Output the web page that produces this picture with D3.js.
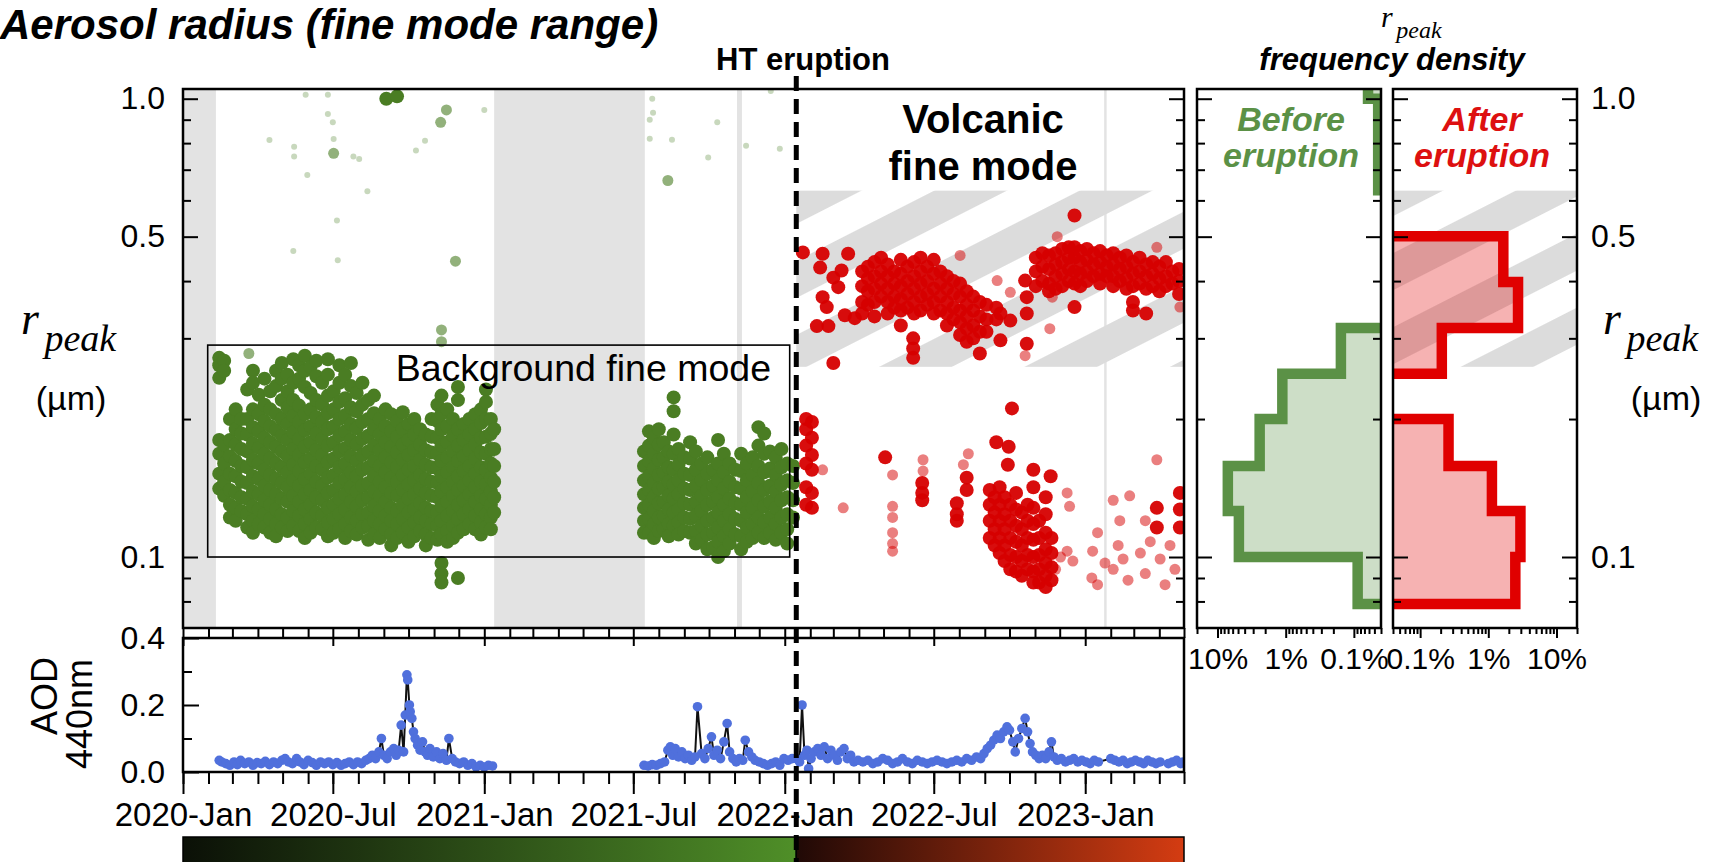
<!DOCTYPE html>
<html>
<head>
<meta charset="utf-8">
<script src="https://cdn.jsdelivr.net/npm/d3@7"></script>
<style>
  body { margin: 0; background: #fff; }
  svg { display: block; }
  text { font-family: "Liberation Sans", Arial, sans-serif; }
  .serif { font-family: "Liberation Serif", "Times New Roman", serif; font-style: italic; }
</style>
</head>
<body>
<svg id="chart"></svg>
<script>
// ---- data (day = days since 2020-01-01) ----
const startDate = "2020-01-01", endDate = "2023-05-01", eruptionDate = "2022-01-15";

// periods without retrievals (grey bands)
const noDataPeriods = [["2020-01-01", "2020-02-10"], ["2021-01-13", "2021-07-15"],
                       ["2021-11-04", "2021-11-10"], ["2023-01-24", "2023-01-27"]];

// volcanic fine mode range (hatched)
const volcanicRange = [0.26, 0.63];
// background fine mode box
const backgroundBox = { from: "2020-01-31", to: "2022-01-07", r: [0.1, 0.29] };

// r_peak, before eruption: [day, [r values]]
const beforeStrong = [
 [44,[0.272,0.262,0.246,0.18,0.168,0.152,0.141]],
 [50,[0.268,0.255,0.176,0.16,0.146,0.136]],
 [57,[0.2,0.18,0.166,0.152,0.14,0.13,0.122]],
 [64,[0.21,0.19,0.176,0.162,0.15,0.138,0.128,0.12]],
 [71,[0.2,0.186,0.172,0.158,0.146,0.135,0.126]],
 [78,[0.232,0.2,0.185,0.17,0.157,0.145,0.134,0.124,0.116]],
 [85,[0.255,0.24,0.21,0.192,0.177,0.163,0.15,0.139,0.129,0.12,0.113]],
 [92,[0.226,0.205,0.188,0.173,0.16,0.148,0.137,0.127,0.118]],
 [99,[0.245,0.215,0.198,0.182,0.168,0.155,0.143,0.133,0.124,0.116]],
 [106,[0.23,0.21,0.193,0.178,0.164,0.151,0.14,0.13,0.121,0.113]],
 [113,[0.255,0.236,0.205,0.189,0.174,0.16,0.148,0.137,0.127,0.118,0.111]],
 [120,[0.265,0.245,0.22,0.2,0.184,0.17,0.157,0.145,0.134,0.124,0.116]],
 [127,[0.25,0.23,0.212,0.195,0.18,0.166,0.153,0.142,0.132,0.122,0.114]],
 [134,[0.27,0.24,0.22,0.203,0.187,0.172,0.159,0.147,0.136,0.126,0.117]],
 [141,[0.262,0.245,0.214,0.197,0.181,0.167,0.154,0.143,0.132,0.123,0.114]],
 [148,[0.275,0.255,0.235,0.205,0.189,0.174,0.161,0.148,0.137,0.127,0.118,0.11]],
 [155,[0.26,0.228,0.21,0.193,0.178,0.164,0.152,0.14,0.13,0.121,0.113]],
 [162,[0.268,0.248,0.22,0.202,0.186,0.171,0.158,0.146,0.135,0.125,0.116]],
 [169,[0.24,0.215,0.197,0.181,0.167,0.155,0.143,0.133,0.123,0.115]],
 [176,[0.27,0.25,0.225,0.206,0.19,0.175,0.161,0.149,0.138,0.128,0.119,0.111]],
 [183,[0.23,0.21,0.193,0.178,0.164,0.151,0.14,0.13,0.121,0.113]],
 [190,[0.262,0.24,0.218,0.2,0.184,0.17,0.157,0.145,0.134,0.124,0.115]],
 [197,[0.25,0.222,0.204,0.188,0.173,0.16,0.148,0.137,0.127,0.118,0.11]],
 [204,[0.265,0.236,0.212,0.195,0.18,0.166,0.153,0.142,0.132,0.122,0.114]],
 [211,[0.228,0.208,0.191,0.176,0.162,0.15,0.139,0.129,0.12,0.112]],
 [218,[0.24,0.215,0.197,0.181,0.167,0.155,0.143,0.133,0.124,0.116]],
 [225,[0.22,0.2,0.184,0.17,0.157,0.145,0.135,0.125,0.117,0.109]],
 [232,[0.225,0.206,0.19,0.175,0.162,0.15,0.139,0.129,0.12,0.112]],
 [239,[0.2,0.185,0.171,0.158,0.146,0.136,0.126,0.118,0.11]],
 [246,[0.21,0.193,0.178,0.165,0.153,0.142,0.132,0.123,0.115]],
 [253,[0.205,0.188,0.174,0.161,0.149,0.138,0.128,0.12,0.112,0.106]],
 [260,[0.198,0.183,0.169,0.157,0.146,0.136,0.126,0.118,0.11]],
 [267,[0.207,0.19,0.176,0.163,0.151,0.14,0.13,0.121,0.113]],
 [274,[0.195,0.18,0.167,0.155,0.144,0.134,0.125,0.116,0.108]],
 [281,[0.2,0.185,0.171,0.158,0.147,0.137,0.127,0.119,0.111]],
 [288,[0.19,0.176,0.163,0.151,0.141,0.131,0.122,0.114]],
 [295,[0.185,0.171,0.159,0.148,0.138,0.128,0.12,0.112,0.106]],
 [302,[0.2,0.183,0.169,0.157,0.146,0.136,0.126,0.118,0.11]],
 [309,[0.215,0.198,0.182,0.168,0.156,0.145,0.135,0.125,0.117,0.109]],
 [314,[0.225,0.205,0.19,0.175,0.162,0.15,0.139,0.129,0.12,0.112,0.097,0.092,0.088]],
 [321,[0.21,0.193,0.178,0.165,0.153,0.142,0.132,0.123,0.114,0.108]],
 [328,[0.2,0.184,0.17,0.157,0.146,0.136,0.126,0.117,0.11]],
 [334,[0.235,0.22,0.19,0.175,0.162,0.15,0.14,0.13,0.121,0.113,0.09]],
 [341,[0.195,0.18,0.166,0.154,0.143,0.133,0.124,0.115]],
 [348,[0.2,0.185,0.171,0.158,0.147,0.137,0.127,0.118]],
 [355,[0.205,0.19,0.176,0.164,0.152,0.142,0.132,0.123,0.115]],
 [362,[0.21,0.196,0.182,0.169,0.157,0.146,0.136,0.127,0.119,0.112]],
 [368,[0.232,0.218,0.2,0.183,0.168,0.155,0.144,0.134,0.124,0.116]],
 [374,[0.2,0.186,0.172,0.16,0.149,0.139,0.13,0.122,0.115]],
 [378,[0.19,0.172,0.158,0.146,0.135,0.125]],
 [247,[1.0]], [260,[1.012]],
 [560,[0.17,0.158,0.147,0.137,0.128,0.12,0.113]],
 [566,[0.188,0.175,0.162,0.15,0.14,0.13,0.121,0.113]],
 [572,[0.182,0.168,0.156,0.145,0.135,0.126,0.118,0.11]],
 [578,[0.19,0.176,0.163,0.151,0.141,0.131,0.122,0.114]],
 [584,[0.178,0.165,0.153,0.142,0.132,0.123,0.115]],
 [590,[0.17,0.157,0.146,0.136,0.127,0.118,0.111]],
 [596,[0.223,0.208,0.185,0.168,0.155,0.144,0.134,0.125,0.117]],
 [602,[0.172,0.159,0.147,0.137,0.127,0.119,0.112]],
 [609,[0.165,0.152,0.141,0.131,0.122,0.114]],
 [616,[0.178,0.164,0.151,0.14,0.13,0.121,0.113]],
 [623,[0.17,0.155,0.143,0.132,0.123,0.114,0.107]],
 [630,[0.16,0.147,0.136,0.126,0.117,0.109]],
 [637,[0.165,0.152,0.14,0.13,0.12,0.112,0.104]],
 [644,[0.155,0.143,0.132,0.122,0.113,0.105]],
 [650,[0.18,0.16,0.147,0.135,0.125,0.116,0.108,0.1]],
 [657,[0.168,0.153,0.141,0.13,0.12,0.111,0.103]],
 [664,[0.16,0.146,0.134,0.124,0.115,0.107]],
 [671,[0.155,0.142,0.131,0.121,0.112]],
 [678,[0.168,0.154,0.141,0.13,0.12,0.111,0.104]],
 [685,[0.16,0.147,0.135,0.125,0.116,0.108]],
 [692,[0.165,0.151,0.139,0.128,0.118,0.11]],
 [699,[0.192,0.175,0.158,0.145,0.133,0.122,0.113]],
 [706,[0.186,0.168,0.153,0.14,0.129,0.119,0.11]],
 [713,[0.17,0.156,0.143,0.132,0.122,0.113]],
 [720,[0.165,0.151,0.139,0.128,0.118,0.109]],
 [727,[0.172,0.157,0.144,0.133,0.122,0.113]],
 [734,[0.16,0.147,0.135,0.124,0.115,0.107]],
 [741,[0.158,0.145,0.133,0.122]]
];
const beforeMid = [[320,0.945],[313,0.888],[183,0.76],[331,0.442],[314,0.313],[314,0.295],
  [80,0.278],[589,0.663],[373,0.183],[373,0.168]];
const beforeFaint = [[149,1.02],[176,1.02],[366,0.945],[176,0.926],[182,0.888],[105,0.813],
  [135,0.786],[135,0.748],[183,0.817],[207,0.748],[214,0.739],[283,0.771],[294,0.81],
  [151,0.682],[224,0.628],[187,0.542],[134,0.465],[188,0.444],[570,1.0],[571,0.932],
  [567,0.9],[567,0.818],[594,0.814],[638,0.744],[649,0.888],[684,0.79],[725,0.778],
  [714,1.04],[187,0.112]];

// r_peak, after eruption
const afterStrong = [
 [753,[0.462]],[757,[0.2,0.19,0.175,0.16,0.142,0.13]],[764,[0.197,0.182,0.167,0.155,0.138,0.128]],
 [770,[0.319]],[774,[0.428]],[777,[0.459,0.369]],[782,[0.351]],[784,[0.319]],
 [790,[0.407,0.265]],[796,[0.388]],[800,[0.422]],[804,[0.337]],[808,[0.459]],[816,[0.332]],
 [825,[0.42,0.39,0.36,0.34]],[832,[0.43,0.405,0.38,0.355]],[840,[0.44,0.41,0.385,0.36,0.335]],
 [848,[0.45,0.42,0.395,0.37]],[853,[0.165]],[856,[0.435,0.41,0.385,0.36,0.34]],
 [864,[0.42,0.395,0.37,0.35]],[872,[0.445,0.415,0.39,0.365,0.345,0.32]],
 [880,[0.43,0.4,0.375,0.35]],[887,[0.3,0.285,0.272]],[888,[0.44,0.41,0.385,0.36,0.34]],
 [896,[0.45,0.42,0.395,0.37,0.345]],[898,[0.145,0.138,0.133]],[904,[0.43,0.4,0.375,0.355]],
 [912,[0.445,0.415,0.385,0.36,0.34]],[920,[0.42,0.395,0.37,0.345]],
 [928,[0.41,0.385,0.36,0.34,0.32]],[936,[0.4,0.375,0.35,0.33]],[940,[0.131,0.124,0.12]],
 [944,[0.395,0.37,0.345,0.325,0.305]],[952,[0.38,0.355,0.335,0.315,0.295,0.149,0.14]],
 [960,[0.37,0.345,0.32,0.3]],[968,[0.36,0.335,0.31,0.278]],[976,[0.355,0.33,0.31]],
 [980,[0.14,0.13,0.12,0.11]],[986,[0.135,0.125,0.115,0.106]],[988,[0.178,0.35,0.33]],
 [992,[0.142,0.13,0.12,0.11,0.102]],[993,[0.297,0.34]],[998,[0.135,0.124,0.115,0.106,0.098]],
 [1002,[0.159]],[1003,[0.174]],[1005,[0.13,0.12,0.11,0.101,0.094,0.328]],
 [1007,[0.211]],[1012,[0.138,0.127,0.117,0.108,0.1,0.093]],[1019,[0.125,0.115,0.106,0.098,0.091]],
 [1023,[0.401]],[1025,[0.292,0.369,0.34]],[1026,[0.13,0.12,0.11,0.101,0.094]],
 [1033,[0.155,0.142,0.128,0.118,0.109,0.1,0.093,0.088]],[1036,[0.45,0.42,0.39]],
 [1040,[0.12,0.11,0.101,0.094,0.088]],[1044,[0.46,0.43,0.4]],
 [1048,[0.135,0.124,0.113,0.104,0.097,0.091,0.086]],[1052,[0.455,0.425,0.395,0.38]],
 [1054,[0.15]],[1055,[0.11,0.102,0.095,0.089]],[1060,[0.46,0.435,0.41,0.385]],
 [1068,[0.47,0.44,0.415,0.39]],[1076,[0.474,0.45,0.425,0.4]],
 [1083,[0.556,0.474,0.45,0.42,0.395,0.351]],[1090,[0.465,0.44,0.415,0.39]],
 [1098,[0.47,0.445,0.42,0.4]],[1106,[0.46,0.435,0.41]],[1114,[0.465,0.44,0.415,0.395]],
 [1122,[0.455,0.43,0.41]],[1130,[0.46,0.435,0.41,0.39]],[1138,[0.45,0.425,0.4]],
 [1146,[0.455,0.43,0.405,0.385]],[1154,[0.44,0.415,0.39,0.36,0.345]],[1162,[0.45,0.42,0.395]],
 [1170,[0.435,0.41,0.385,0.34]],[1178,[0.44,0.415,0.39]],[1183,[0.128,0.116]],
 [1186,[0.43,0.405,0.38]],[1194,[0.44,0.41,0.39]],[1202,[0.42,0.395]],
 [1210,[0.425,0.4,0.375]],[1211,[0.138,0.127,0.116]]
];
const afterMid = [[777,0.155],[802,0.128],[862,0.151],[862,0.129],[862,0.122],[862,0.113],
  [862,0.107],[862,0.103],[899,0.163],[899,0.154],[954,0.168],[948,0.159],[1074,0.138],
  [1077,0.129],[1074,0.103],[1081,0.098],[1105,0.103],[1111,0.113],[1111,0.087],[1104,0.09],
  [1130,0.133],[1138,0.12],[1136,0.106],[1142,0.099],[1130,0.094],[1148,0.089],[1163,0.102],
  [1169,0.092],[1175,0.108],[1187,0.099],[1193,0.087],[1199,0.106],[1205,0.094],[1169,0.12],
  [1183,0.163],[1150,0.136],[944,0.455],[989,0.401],[1005,0.378],[1023,0.275],[1053,0.315],
  [1056,0.369],[1062,0.5],[1183,0.474],[1211,0.351],[1060,0.094],[1066,0.1],[1120,0.097]];

// histogram bins (log10 step 0.1) and frequency density
const binEdges = [0.063, 0.079, 0.1, 0.126, 0.158, 0.2, 0.251, 0.316, 0.398, 0.501, 0.631, 0.794, 1.0, 1.259];
const histBefore = [0, 0.00088, 0.0486, 0.0706, 0.0241, 0.0112, 0.00155, 0, 0, 0, 0.00044, 0.00044, 0.00062];
const histAfter  = [0, 0.0249, 0.0296, 0.0113, 0.00261, 0, 0.00208, 0.0273, 0.0166, 0, 0, 0, 0];

// AOD 440 nm: [day, aod]
const aodP1 = [[44,0.035],[47,0.03],[52,0.025],[57,0.02],[62,0.03],[66,0.022],[70,0.035],[75,0.025],
 [80,0.03],[85,0.02],[90,0.028],[95,0.025],[100,0.032],[105,0.022],[110,0.03],[115,0.025],[120,0.035],
 [124,0.04],[128,0.03],[133,0.025],[138,0.04],[142,0.03],[147,0.022],[152,0.035],[157,0.028],[162,0.02],
 [167,0.03],[172,0.025],[177,0.03],[182,0.022],[187,0.028],[192,0.02],[197,0.025],[202,0.03],[207,0.022],
 [212,0.03],[217,0.025],[222,0.035],[226,0.04],[230,0.05],[234,0.04],[238,0.06],[241,0.1],[244,0.05],
 [248,0.04],[252,0.06],[256,0.07],[259,0.05],[262,0.065],[265,0.14],[268,0.06],[270,0.17],[272,0.29],
 [273,0.275],[275,0.2],[276,0.18],[278,0.16],[280,0.12],[282,0.1],[285,0.08],[288,0.065],[291,0.09],
 [294,0.06],[297,0.05],[300,0.07],[304,0.045],[308,0.06],[312,0.04],[316,0.055],[320,0.035],[323,0.1],
 [327,0.04],[331,0.03],[336,0.025],[341,0.03],[346,0.02],[351,0.025],[356,0.015],[361,0.02],[366,0.015],
 [371,0.02],[376,0.018]];
const aodP2 = [[560,0.02],[565,0.018],[570,0.022],[575,0.02],[580,0.025],[585,0.03],[589,0.065],
 [592,0.075],[595,0.05],[598,0.07],[602,0.045],[606,0.06],[610,0.04],[614,0.05],[618,0.035],[622,0.045],
 [625,0.195],[630,0.055],[634,0.04],[638,0.07],[642,0.105],[645,0.05],[649,0.065],[653,0.04],[657,0.09],
 [661,0.145],[664,0.06],[668,0.04],[672,0.03],[676,0.04],[680,0.035],[683,0.095],[687,0.06],[691,0.045],
 [695,0.035],[700,0.03],[705,0.025],[710,0.02],[715,0.025],[720,0.03],[725,0.02],[730,0.04],[735,0.035],
 [740,0.04]];
const aodP3 = [[745,0.04],[749,0.03],[752,0.2],[755,0.05],[758,0.065],[760,0.01],[763,0.04],[767,0.06],
 [771,0.07],[775,0.05],[779,0.075],[783,0.04],[787,0.065],[791,0.05],[795,0.035],[799,0.06],[803,0.07],
 [807,0.04],[811,0.05],[815,0.03],[820,0.035],[826,0.03],[832,0.035],[838,0.025],[844,0.03],[850,0.04],
 [856,0.035],[862,0.025],[868,0.03],[874,0.04],[880,0.03],[886,0.025],[892,0.035],[898,0.03],[904,0.025],
 [910,0.03],[916,0.035],[922,0.03],[928,0.025],[934,0.03],[940,0.035],[946,0.03],[952,0.04],[958,0.035],
 [964,0.045],[969,0.04],[973,0.055],[977,0.07],[981,0.08],[985,0.095],[989,0.11],[993,0.1],[997,0.12],
 [1001,0.135],[1004,0.125],[1008,0.09],[1011,0.06],[1015,0.1],[1019,0.13],[1023,0.16],[1026,0.12],
 [1029,0.085],[1032,0.06],[1036,0.05],[1040,0.04],[1044,0.05],[1048,0.04],[1052,0.06],[1055,0.09],
 [1058,0.045],[1062,0.035],[1067,0.04],[1072,0.03],[1077,0.035],[1082,0.04],[1087,0.03],[1092,0.035],
 [1097,0.03],[1102,0.025],[1107,0.035],[1112,0.03],[1127,0.04],[1132,0.035],[1137,0.03],[1142,0.035],
 [1147,0.025],[1152,0.03],[1157,0.035],[1162,0.03],[1167,0.025],[1172,0.035],[1177,0.03],[1182,0.025],
 [1187,0.03],[1197,0.025],[1202,0.03],[1207,0.035],[1212,0.025],[1215,0.03]];

// ticks
const rMajor = [0.1, 0.5, 1.0];
const rMinor = [0.08, 0.09, 0.2, 0.3, 0.4, 0.6, 0.7, 0.8, 0.9];
const aodMajor = [0, 0.2, 0.4], aodMinor = [0.1, 0.3];
const freqMajor = [0.001, 0.01, 0.1];
const freqMinor = [0.0004,0.0005,0.0006,0.0007,0.0008,0.0009,0.002,0.003,0.004,0.005,0.006,0.007,
  0.008,0.009,0.02,0.03,0.04,0.05,0.06,0.07,0.08,0.09,0.2];

// ---- layout ----
const W = 1716, H = 862;
const M = { x0: 183, x1: 1184, y0: 89, y1: 628 };   // main scatter panel
const A = { y0: 638, y1: 772 };                     // AOD panel
const H1 = { x0: 1197, x1: 1381 }, H2 = { x0: 1393, x1: 1577 };
const green = "#4a7d23", red = "#d60000", blue = "#5070dc";
const histGreen = "#5b9146", histRed = "#e00000";

const parse = d3.timeParse("%Y-%m-%d");
const t0 = parse(startDate);
const dayDate = d => d3.timeDay.offset(t0, d);

const x = d3.scaleTime().domain([t0, parse(endDate)]).range([M.x0, M.x1]);
const y = d3.scaleLog().domain([0.07, 1.05]).range([M.y1, M.y0]);
const yA = d3.scaleLinear().domain([0, 0.4]).range([A.y1, A.y0]);
const hx1 = d3.scaleLog().domain([0.2, 0.0004]).range([H1.x0, H1.x1]);
const hx2 = d3.scaleLog().domain([0.0004, 0.2]).range([H2.x0, H2.x1]);

const svg = d3.select("#chart").attr("width", W).attr("height", H);
svg.append("rect").attr("width", W).attr("height", H).attr("fill", "#fff");
const defs = svg.append("defs");

function clip(id, x0, y0, x1, y1) {
  defs.append("clipPath").attr("id", id).append("rect")
    .attr("x", x0).attr("y", y0).attr("width", x1 - x0).attr("height", y1 - y0);
}
clip("cMain", M.x0, M.y0, M.x1, M.y1);
clip("cAod", M.x0, A.y0, M.x1, A.y1);
clip("cH1", H1.x0, M.y0, H1.x1, M.y1);
clip("cH2", H2.x0, M.y0, H2.x1, M.y1);

// diagonal hatch
const pat = defs.append("pattern").attr("id", "hatch").attr("patternUnits", "userSpaceOnUse")
  .attr("width", 66).attr("height", 66).attr("patternTransform", "rotate(-27)");
pat.append("rect").attr("width", 66).attr("height", 33).attr("fill", "#dcdcdc");

// colorbar gradients
function grad(id, c0, c1) {
  const g = defs.append("linearGradient").attr("id", id);
  g.append("stop").attr("offset", "0%").attr("stop-color", c0);
  g.append("stop").attr("offset", "100%").attr("stop-color", c1);
}
grad("gBefore", "#0b1007", "#4f8f28");
grad("gAfter", "#200906", "#d43c12");

const eruptX = x(parse(eruptionDate));

// ---- main panel ----
const gm = svg.append("g").attr("clip-path", "url(#cMain)");
gm.selectAll("rect.gap").data(noDataPeriods).join("rect")
  .attr("x", d => x(parse(d[0]))).attr("width", d => x(parse(d[1])) - x(parse(d[0])))
  .attr("y", M.y0).attr("height", M.y1 - M.y0).attr("fill", "#e3e3e3");
gm.append("rect").attr("x", eruptX).attr("width", M.x1 - eruptX)
  .attr("y", y(volcanicRange[1])).attr("height", y(volcanicRange[0]) - y(volcanicRange[1]))
  .attr("fill", "url(#hatch)");

const cols = c => c.flatMap(([d, rs]) => rs.map(r => [d, r]));
function dots(g, data, color, rad, op) {
  g.append("g").selectAll("circle").data(data).join("circle")
    .attr("cx", d => x(dayDate(d[0]))).attr("cy", d => y(d[1]))
    .attr("r", rad).attr("fill", color).attr("fill-opacity", op);
}
dots(gm, beforeFaint, green, 3, 0.3);
dots(gm, beforeMid, green, 5.5, 0.6);
dots(gm, cols(beforeStrong), green, 7, 1);
dots(gm, afterMid, red, 5.5, 0.5);
dots(gm, cols(afterStrong), red, 7, 0.95);

svg.append("rect")
  .attr("x", x(parse(backgroundBox.from))).attr("width", x(parse(backgroundBox.to)) - x(parse(backgroundBox.from)))
  .attr("y", y(backgroundBox.r[1])).attr("height", y(backgroundBox.r[0]) - y(backgroundBox.r[1]))
  .attr("fill", "none").attr("stroke", "#000").attr("stroke-width", 1.6);
svg.append("text").attr("x", 771).attr("y", 381).attr("text-anchor", "end")
  .attr("font-size", 37.5).text("Background fine mode");
svg.append("text").attr("x", 983).attr("y", 133).attr("text-anchor", "middle")
  .attr("font-size", 40).attr("font-weight", "bold").text("Volcanic");
svg.append("text").attr("x", 983).attr("y", 180).attr("text-anchor", "middle")
  .attr("font-size", 40).attr("font-weight", "bold").text("fine mode");

// ---- AOD panel ----
const ga = svg.append("g").attr("clip-path", "url(#cAod)");
const aodLine = d3.line().x(d => x(dayDate(d[0]))).y(d => yA(d[1]));
[aodP1, aodP2, aodP3].forEach(p => {
  ga.append("path").attr("d", aodLine(p)).attr("fill", "none").attr("stroke", "#111").attr("stroke-width", 2);
});
ga.selectAll("circle").data(aodP1.concat(aodP2, aodP3)).join("circle")
  .attr("cx", d => x(dayDate(d[0]))).attr("cy", d => yA(d[1])).attr("r", 4.8).attr("fill", blue);

// ---- histograms ----
function hist(vals, xs, zeroX, clipId, stroke, fill) {
  const pts = [[zeroX, y(binEdges[0])]];
  vals.forEach((v, i) => {
    const xv = v > 0 ? xs(v) : zeroX;
    pts.push([xv, y(binEdges[i])], [xv, y(binEdges[i + 1])]);
  });
  pts.push([zeroX, y(binEdges[binEdges.length - 1])]);
  const g = svg.append("g").attr("clip-path", `url(#${clipId})`);
  g.append("path").attr("d", d3.line()(pts) + "Z").attr("fill", fill);
  g.append("path").attr("d", d3.line()(pts)).attr("fill", "none").attr("stroke", stroke)
    .attr("stroke-width", 10.5).attr("stroke-linejoin", "miter");
  return g;
}
hist(histBefore, hx1, H1.x1 + 40, "cH1", histGreen, "rgba(91,145,70,0.3)");
const g2 = svg.append("g").attr("clip-path", "url(#cH2)");
g2.append("rect").attr("x", H2.x0).attr("width", H2.x1 - H2.x0)
  .attr("y", y(volcanicRange[1])).attr("height", y(volcanicRange[0]) - y(volcanicRange[1]))
  .attr("fill", "url(#hatch)");
hist(histAfter, hx2, H2.x0 - 40, "cH2", histRed, "rgba(224,0,0,0.3)");

function label2(cx, lines, color) {
  lines.forEach((s, i) => svg.append("text").attr("x", cx).attr("y", 131 + i * 36)
    .attr("text-anchor", "middle").attr("font-size", 34).attr("font-weight", "bold")
    .attr("font-style", "italic").attr("fill", color).text(s));
}
label2(1291, ["Before", "eruption"], histGreen);
label2(1482, ["After", "eruption"], "#dd1010");

// ---- frames ----
[[M.x0, M.y0, M.x1, M.y1], [M.x0, A.y0, M.x1, A.y1], [H1.x0, M.y0, H1.x1, M.y1], [H2.x0, M.y0, H2.x1, M.y1]]
  .forEach(([a, b, c, d]) => svg.append("rect").attr("x", a).attr("y", b).attr("width", c - a)
    .attr("height", d - b).attr("fill", "none").attr("stroke", "#000").attr("stroke-width", 2.5));

// ---- axes ----
function styled(g, fs) {
  g.select(".domain").remove();
  g.attr("font-family", null).attr("font-size", null);
  g.selectAll(".tick line").attr("stroke", "#000").attr("stroke-width", 2);
  g.selectAll(".tick text").attr("fill", "#000").attr("font-size", fs);
  return g;
}
function add(tx, ty, axis, fs = 32) {
  return styled(svg.append("g").attr("transform", `translate(${tx},${ty})`).call(axis), fs);
}
const f1 = d3.format(".1f");
// r_peak axes on every panel
[[M.x0, "L"], [M.x1, "R"], [H1.x0, "L"], [H1.x1, "R"], [H2.x0, "L"]].forEach(([px, side]) => {
  const mk = side === "L" ? d3.axisLeft : d3.axisRight;
  const lab = px === M.x0;
  add(px, 0, mk(y).tickValues(rMajor).tickSize(-15).tickPadding(18).tickFormat(lab ? f1 : ""));
  add(px, 0, mk(y).tickValues(rMinor).tickSize(-8).tickFormat(""));
});
add(H2.x1, 0, d3.axisRight(y).tickValues(rMajor).tickSize(-15).tickPadding(14).tickFormat(f1));
add(H2.x1, 0, d3.axisRight(y).tickValues(rMinor).tickSize(-8).tickFormat(""));

// monthly "ladder" between panels
add(0, M.y1, d3.axisBottom(x).ticks(d3.timeMonth.every(1)).tickSize(10).tickFormat(""));
// AOD axes
add(M.x0, 0, d3.axisLeft(yA).tickValues(aodMajor).tickSize(-16).tickPadding(18).tickFormat(f1));
add(M.x0, 0, d3.axisLeft(yA).tickValues(aodMinor).tickSize(-9).tickFormat(""));
add(0, A.y1, d3.axisBottom(x).ticks(d3.timeMonth.every(1)).tickSize(12).tickFormat(""));
add(0, A.y1, d3.axisBottom(x).ticks(d3.timeMonth.every(6)).tickSize(22).tickPadding(9)
  .tickFormat(d3.timeFormat("%Y-%b")), 33);
add(0, A.y0, d3.axisBottom(x).ticks(d3.timeMonth.every(6)).tickSize(8).tickFormat(""));

// frequency axes
const pct = d3.format("~%");
add(0, M.y1, d3.axisBottom(hx1).tickValues(freqMajor).tickSize(10).tickPadding(10).tickFormat(pct), 30);
add(0, M.y1, d3.axisBottom(hx1).tickValues(freqMinor).tickSize(6).tickFormat(""));
add(0, M.y1, d3.axisBottom(hx2).tickValues(freqMajor).tickSize(10).tickPadding(10).tickFormat(pct), 30);
add(0, M.y1, d3.axisBottom(hx2).tickValues(freqMinor).tickSize(6).tickFormat(""));

// ---- colorbar ----
svg.append("rect").attr("x", M.x0).attr("y", 837).attr("width", eruptX - M.x0).attr("height", 40)
  .attr("fill", "url(#gBefore)").attr("stroke", "#000").attr("stroke-width", 1.5);
svg.append("rect").attr("x", eruptX).attr("y", 837).attr("width", M.x1 - eruptX).attr("height", 40)
  .attr("fill", "url(#gAfter)").attr("stroke", "#000").attr("stroke-width", 1.5);

// eruption line
svg.append("line").attr("x1", eruptX).attr("x2", eruptX).attr("y1", 76).attr("y2", H)
  .attr("stroke", "#000").attr("stroke-width", 5).attr("stroke-dasharray", "15,8");

// ---- titles & labels ----
svg.append("text").attr("x", 0).attr("y", 39).attr("font-size", 42).attr("font-weight", "bold")
  .attr("font-style", "italic").text("Aerosol radius (fine mode range)");
svg.append("text").attr("x", 803).attr("y", 70).attr("text-anchor", "middle").attr("font-size", 31)
  .attr("font-weight", "bold").text("HT eruption");
svg.append("text").attr("x", 1392).attr("y", 70).attr("text-anchor", "middle").attr("font-size", 31)
  .attr("font-weight", "bold").attr("font-style", "italic").text("frequency density");

function rpeak(x0, yb, big, small) {
  const t = svg.append("text").attr("class", "serif").attr("x", x0).attr("y", yb);
  t.append("tspan").attr("font-size", big).text("r");
  t.append("tspan").attr("font-size", small).attr("dx", big * 0.12).attr("dy", big * 0.38).text("peak");
}
rpeak(1381, 27, 30, 24);
rpeak(21, 334, 46, 38);
rpeak(1603, 334, 46, 38);
svg.append("text").attr("x", 71).attr("y", 410).attr("text-anchor", "middle").attr("font-size", 34).text("(µm)");
svg.append("text").attr("x", 1666).attr("y", 410).attr("text-anchor", "middle").attr("font-size", 34).text("(µm)");
svg.append("text").attr("transform", "translate(57,696) rotate(-90)").attr("text-anchor", "middle")
  .attr("font-size", 36).text("AOD");
svg.append("text").attr("transform", "translate(92,714) rotate(-90)").attr("text-anchor", "middle")
  .attr("font-size", 36).text("440nm");
</script>
</body>
</html>
